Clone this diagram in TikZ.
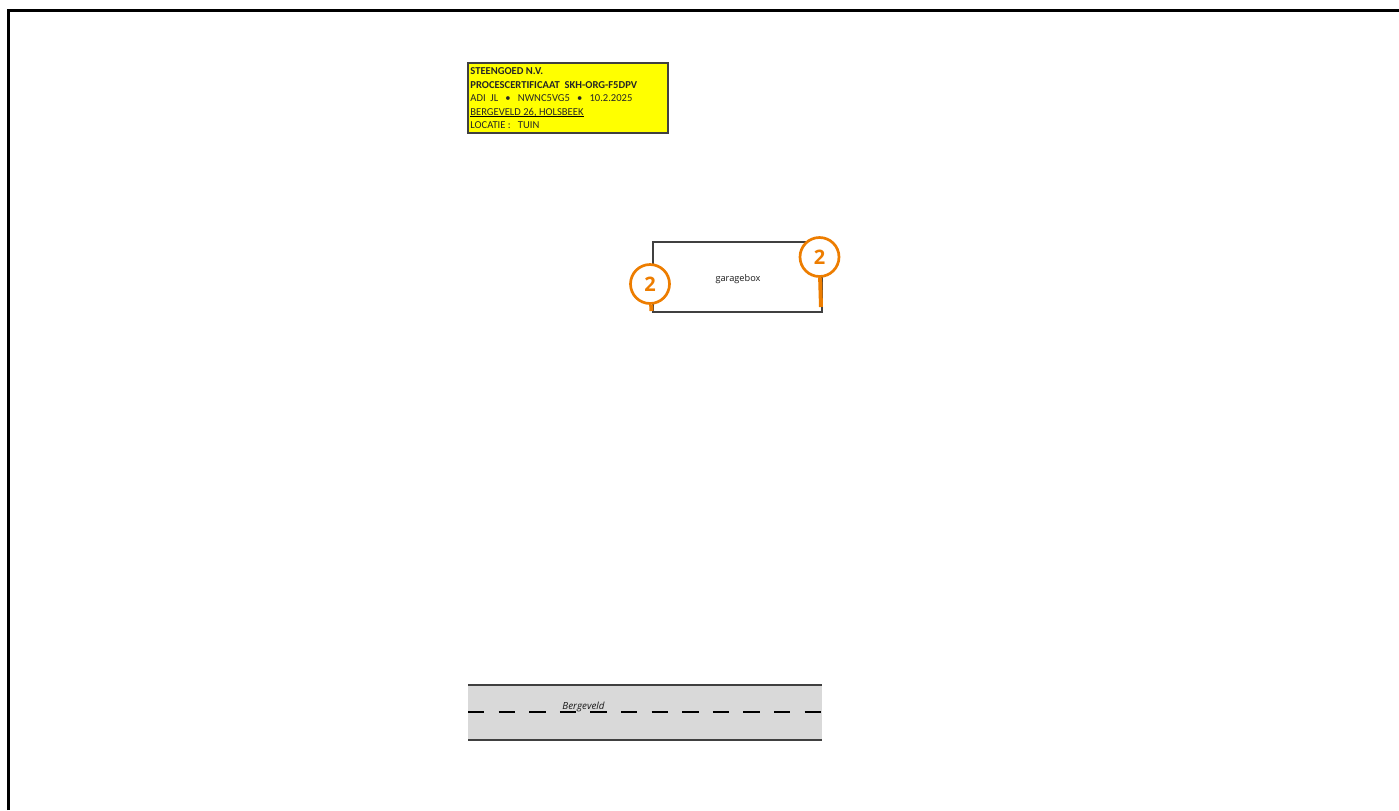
\documentclass[tikz,border=0pt]{standalone}
\usepackage{fontspec}
\setmainfont{Carlito}
\newfontfamily\labelfont{Open Sans}
\definecolor{certyellow}{HTML}{FFFF00}
\definecolor{calloutorange}{HTML}{ED7D00}
\definecolor{roadgrey}{HTML}{D9D9D9}
\definecolor{linegrey}{HTML}{404040}
\tikzset{
    certbox/.style={draw=linegrey,line width=1.1pt,fill=certyellow,inner sep=0pt,minimum width=100pt,minimum height=35pt,anchor=north west},
    certtext/.style={inner sep=0pt,anchor=base west,font=\fontsize{5.29}{6}\selectfont,text=black!85},
    callout/.style={circle,draw=calloutorange,line width=1.35pt,fill=white,inner sep=0pt,minimum size=19.5pt,text=calloutorange,font=\labelfont\fontsize{10}{11}\selectfont\bfseries},
    stem/.style={draw=calloutorange,line width=2pt},
    smalllabel/.style={inner sep=0pt,font=\labelfont\fontsize{4.6}{5}\selectfont,text=black!90},
    roadedge/.style={draw=linegrey,line width=1pt}
}
\begin{document}
\begin{tikzpicture}[x=0.5pt,y=-0.5pt]
    \useasboundingbox (0,0) rectangle (1399,810);
    % frame
    \draw [black,line width=1.5pt] (8.2,810) -- (8.2,10.8) -- (1399,10.8);
    % certificate
    \node [certbox] (cert) at (466.5,61.5) {};
    \node [certtext] (certa) at (470,74.5) {\bfseries STEENGOED N.V.};
    \node [certtext] (certb) at (470,88) {\bfseries PROCESCERTIFICAAT\ \ SKH-ORG-F5DPV};
    \node [certtext] (certc) at (470,101.5) {ADI\ \ JL\ \ \ \textbullet\ \ \ NWNC5VG5\ \ \ \textbullet\ \ \ 10.2.2025};
    \node [certtext] (certd) at (470,115) {BERGEVELD 26, HOLSBEEK};
    \draw [black,line width=.4pt] ([yshift=-.8pt]certd.base west) -- ([yshift=-.8pt]certd.base east);
    \node [certtext] (certe) at (470,128.5) {LOCATIE :\ \ \ TUIN};
    % garagebox
    \node [draw=linegrey,line width=1pt,minimum width=84.5pt,minimum height=34.8pt,inner sep=0pt,anchor=north west] (box) at (651.5,241.2) {};
    \node [smalllabel] (boxlabel) at (738,279) {garagebox};
    \coordinate (pina) at (651.5,311);
    \coordinate (pinb) at (821,307);
    \node [callout] (calla) at (650,284) {2};
    \node [callout] (callb) at (819.5,257) {2};
    \draw [stem] (calla) -- (pina);
    \draw [stem] (callb) -- (pinb);
    % road
    \fill [roadgrey] (468,685) rectangle (822,740);
    \draw [roadedge] (468,685) -- (822,685);
    \draw [roadedge] (468,740) -- (822,740);
    \draw [black,line width=.75pt,dash pattern=on 8.2pt off 7.1pt] (468,712) -- (822,712);
    \node [smalllabel,font=\labelfont\itshape\fontsize{4.9}{5}\selectfont] (roadlabel) at (583.5,707) {Bergeveld};
\end{tikzpicture}
\end{document}
